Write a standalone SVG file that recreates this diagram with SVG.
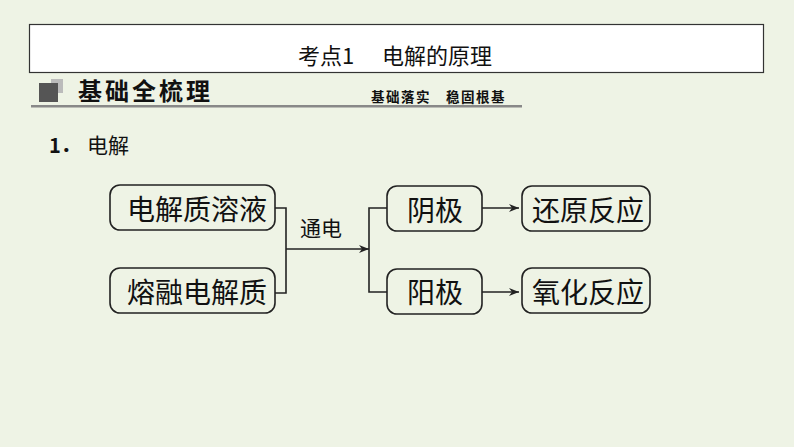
<svg xmlns="http://www.w3.org/2000/svg" width="794" height="447" viewBox="0 0 794 447">
<defs>
<style>
.t{font-family:"Noto Sans CJK SC","Liberation Serif",serif;fill:#111}
.box{fill:none;stroke:#222;stroke-width:1.6}
.ln{fill:none;stroke:#222;stroke-width:1.6}
.bt{font-size:28px;text-anchor:middle}
</style>
<marker id="ah" viewBox="0 0 10 10" refX="10" refY="5" markerWidth="10" markerHeight="10" markerUnits="userSpaceOnUse" orient="auto">
<path d="M0,1 L10,5 L0,9 L3,5 z" fill="#222"/>
</marker>
</defs>
<rect width="794" height="447" fill="#eef3e5"/>
<g id="header">
<rect x="29.5" y="24.5" width="734" height="48" fill="#fff" stroke="#333" stroke-width="1.2"/>
<text class="t" x="298" y="64" font-size="22">考点1</text>
<text class="t" x="382" y="64" font-size="22">电解的原理</text>
</g>
<g id="section">
<rect x="51" y="79" width="12" height="14" fill="#bbb"/>
<rect x="39" y="83" width="19" height="19" fill="#555"/>
<text class="t" x="78" y="100" font-size="24" font-weight="bold" letter-spacing="3">基础全梳理</text>
<text class="t" x="371" y="102" font-size="13.5" font-weight="bold" letter-spacing="1.5">基础落实　稳固根基</text>
<rect x="31" y="105" width="491" height="2.5" fill="#888"/>
</g>
<g id="label1">
<text class="t" x="49" y="153" font-size="20" font-weight="bold">1．</text>
<text class="t" x="87" y="153" font-size="21">电解</text>
</g>
<g id="n1"><rect class="box" x="110" y="185" width="165" height="45" rx="10"/><text class="t bt" x="197" y="220">电解质溶液</text></g>
<g id="n2"><rect class="box" x="110" y="268" width="165" height="45" rx="10"/><text class="t bt" x="197" y="303">熔融电解质</text></g>
<g id="n3"><rect class="box" x="387" y="186" width="95" height="45" rx="10"/><text class="t bt" x="435" y="221">阴极</text></g>
<g id="n4"><rect class="box" x="387" y="269" width="95" height="45" rx="10"/><text class="t bt" x="435" y="303">阳极</text></g>
<g id="n5"><rect class="box" x="522" y="186" width="128" height="45" rx="10"/><text class="t bt" x="588" y="221">还原反应</text></g>
<g id="n6"><rect class="box" x="522" y="268" width="128" height="45" rx="10"/><text class="t bt" x="588" y="303">氧化反应</text></g>
<g id="connectors">
<path class="ln" d="M275,208 H286 V293 H275"/>
<path class="ln" d="M286,249 H369" marker-end="url(#ah)"/>
<text class="t" x="321" y="236" font-size="21" text-anchor="middle">通电</text>
<path class="ln" d="M387,208 H369 V292 H387"/>
<path class="ln" d="M482,208 H519" marker-end="url(#ah)"/>
<path class="ln" d="M482,292 H519" marker-end="url(#ah)"/>
</g>
</svg>
